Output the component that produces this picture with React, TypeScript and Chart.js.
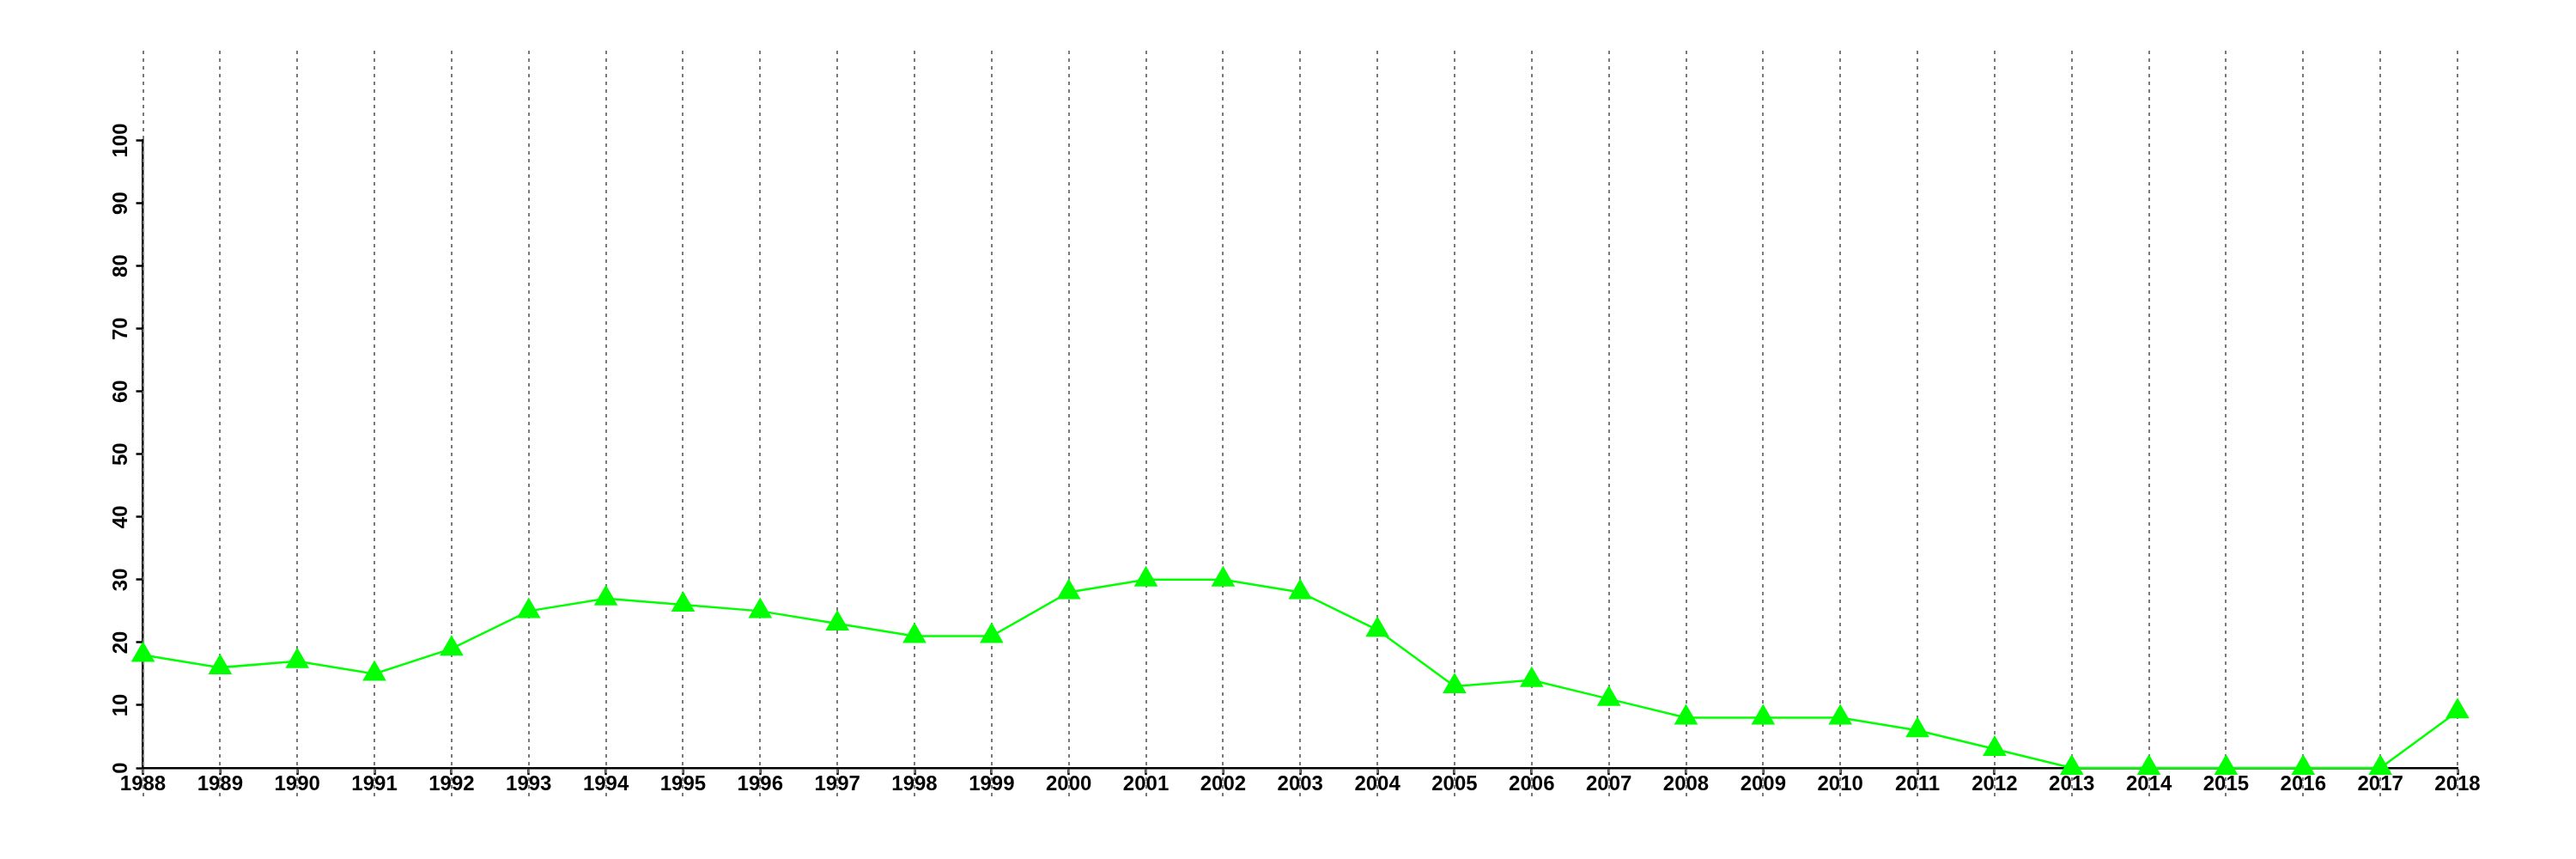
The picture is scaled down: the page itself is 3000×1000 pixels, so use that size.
import React, { useEffect, useRef } from "react";
import { Chart, registerables } from "chart.js";

Chart.register(...registerables);

const years: number[] = [
  1988, 1989, 1990, 1991, 1992, 1993, 1994, 1995, 1996, 1997, 1998, 1999, 2000,
  2001, 2002, 2003, 2004, 2005, 2006, 2007, 2008, 2009, 2010, 2011, 2012, 2013,
  2014, 2015, 2016, 2017, 2018,
];
const values: number[] = [
  18, 16, 17, 15, 19, 25, 27, 26, 25, 23, 21, 21, 28, 30, 30, 28, 22, 13, 14, 11,
  8, 8, 8, 6, 3, 0, 0, 0, 0, 0, 9,
];
const yTicks: number[] = [0, 10, 20, 30, 40, 50, 60, 70, 80, 90, 100];

const W = 3000;
const H = 1000;
const AREA_LEFT = 166.5;
const AREA_RIGHT = 2862;
const AREA_TOP = 163.5;
const AREA_BOTTOM = 894;
const Y_AXIS_W = 60;
const X_AXIS_H = 50;

const FONT = { family: "'Liberation Sans', Arial, Helvetica, sans-serif", size: 24, weight: "bold" as const };

const verticalDots = {
  id: "verticalDots",
  beforeDatasetsDraw(chart: any) {
    const x = chart.scales.x;
    const ctx = chart.ctx;
    ctx.save();
    ctx.strokeStyle = "#7a7a7a";
    ctx.lineWidth = 2;
    ctx.setLineDash([4, 5]);
    for (const yr of years) {
      const px = Math.round(x.getPixelForValue(yr));
      ctx.beginPath();
      ctx.moveTo(px, 59);
      ctx.lineTo(px, 928);
      ctx.stroke();
    }
    ctx.restore();
  },
};

export default function App() {
  const ref = useRef<HTMLCanvasElement | null>(null);
  useEffect(() => {
    if (!ref.current) return;
    const chart = new Chart(ref.current, {
      type: "line",
      data: {
        datasets: [
          {
            data: years.map((y, i) => ({ x: y, y: values[i] })),
            borderColor: "#00FF00",
            backgroundColor: "#00FF00",
            borderWidth: 2.5,
            pointStyle: "triangle",
            pointRadius: 16,
            pointHoverRadius: 16,
            pointBorderWidth: 0,
            pointBackgroundColor: "#00FF00",
            tension: 0,
            clip: false as any,
          },
        ],
      },
      options: {
        responsive: false,
        animation: false,
        events: [],
        layout: {
          padding: {
            left: AREA_LEFT - Y_AXIS_W,
            right: W - AREA_RIGHT,
            top: AREA_TOP,
            bottom: H - AREA_BOTTOM - X_AXIS_H,
          },
        },
        plugins: {
          legend: { display: false },
          tooltip: { enabled: false },
          title: { display: false },
        },
        scales: {
          x: {
            type: "linear",
            min: years[0],
            max: years[years.length - 1],
            afterBuildTicks: (s: any) => {
              s.ticks = years.map((v) => ({ value: v }));
            },
            afterFit: (s: any) => {
              s.height = X_AXIS_H;
              s.paddingLeft = 0;
              s.paddingRight = 0;
            },
            border: { display: true, color: "#000", width: 2.5 },
            grid: {
              display: true,
              drawOnChartArea: false,
              drawTicks: true,
              tickLength: 8,
              tickWidth: 2.5,
              color: "#000",
            },
            ticks: {
              autoSkip: false,
              maxRotation: 0,
              minRotation: 0,
              padding: -3,
              color: "#000",
              font: FONT,
              callback: (v: any) => String(v),
            },
          },
          y: {
            type: "linear",
            min: 0,
            max: 100,
            afterBuildTicks: (s: any) => {
              s.ticks = yTicks.map((v) => ({ value: v }));
            },
            afterFit: (s: any) => {
              s.width = Y_AXIS_W;
              s.paddingTop = 0;
              s.paddingBottom = 0;
            },
            border: { display: true, color: "#000", width: 2.5 },
            grid: {
              display: true,
              drawOnChartArea: false,
              drawTicks: true,
              tickLength: 8,
              tickWidth: 2.5,
              color: "#000",
            },
            ticks: {
              minRotation: 90,
              maxRotation: 90,
              crossAlign: "center",
              padding: -3,
              color: "#000",
              font: FONT,
              callback: (v: any) => String(v),
            },
          },
        },
      },
      plugins: [verticalDots],
    });
    return () => chart.destroy();
  }, []);
  return (
    <div style={{ position: "absolute", left: 0, top: 0, width: W, height: H, background: "#fff" }}>
      <canvas ref={ref} width={W} height={H} style={{ display: "block" }} />
    </div>
  );
}
